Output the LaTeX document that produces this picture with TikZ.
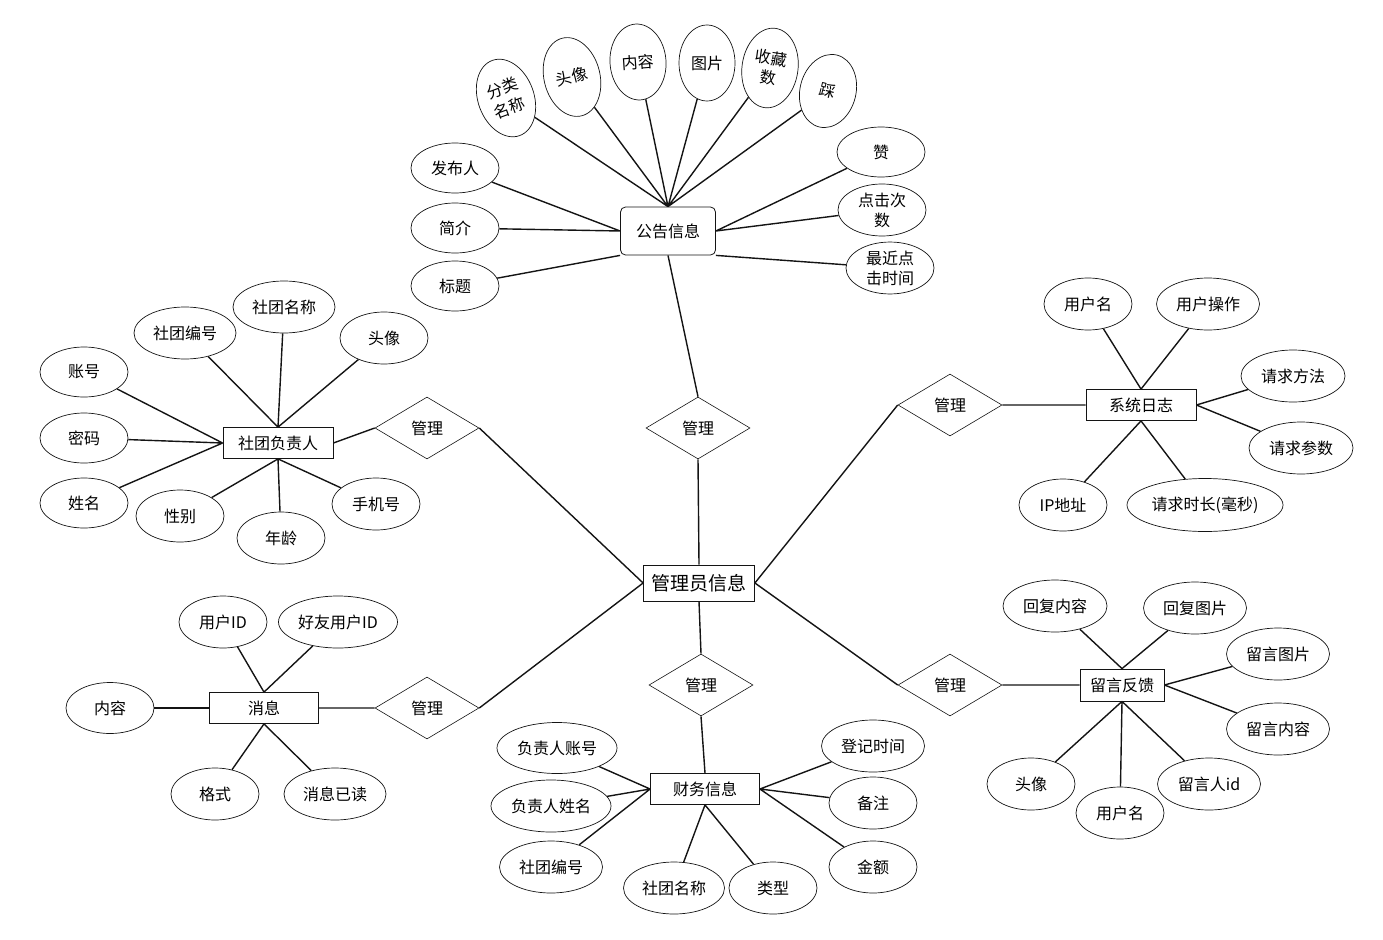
\documentclass[tikz,border=0pt]{standalone}
\usepackage{fontspec}
\newfontfamily\cjk{Noto Sans CJK SC}
\usetikzlibrary{shapes.geometric}
\definecolor{ink}{RGB}{20,20,20}
\tikzset{
  ent/.style={draw=ink,fill=white,line width=0.8pt,minimum width=110pt,minimum height=31pt,
    inner sep=2pt,font=\cjk\fontsize{16}{18}\selectfont},
  attr/.style={draw=ink,ellipse,line width=0.7pt,minimum width=88pt,minimum height=50pt,
    inner sep=1pt,align=center,font=\cjk\fontsize{16}{20}\selectfont},
  tall/.style={attr,minimum width=56pt,minimum height=76pt},
  rel/.style={draw=ink,diamond,line width=0.6pt,minimum width=104pt,minimum height=62pt,
    inner sep=0pt,font=\cjk\fontsize{16}{18}\selectfont},
  link/.style={line width=1.4pt,ink},
}

\begin{document}
\begin{tikzpicture}[x=1pt,y=-1pt]
  \useasboundingbox (0,0) rectangle (1383,939);
  \node[ent,minimum width=111pt,minimum height=36pt,font=\cjk\fontsize{19}{20}\selectfont] (gly) at (699,583) {管理员信息};
  \node[rel] (m1) at (698,428) {管理};
  \node[rel] (m2) at (427,428) {管理};
  \node[rel] (m3) at (950,405) {管理};
  \node[rel] (m4) at (701,685) {管理};
  \node[rel] (m5) at (427,708) {管理};
  \node[rel] (m6) at (950,685) {管理};

  \node[ent,rounded corners=5pt,minimum width=95pt,minimum height=48pt] (gg) at (668,231) {公告信息};
  \node[tall,rotate=20,minimum height=80pt,font=\cjk\fontsize{16}{21}\selectfont] (flmc) at (506,98) {分类\\名称};
  \node[tall,rotate=14,minimum height=80pt] (ggtx) at (572,77) {头像};
  \node[tall,rotate=4] (ggnr) at (638,62) {内容};
  \node[tall] (ggtp) at (707,63) {图片};
  \node[tall,rotate=-8,minimum height=80pt] (scs) at (770,68) {收藏\\数};
  \node[tall,rotate=-14,minimum height=74pt] (cai) at (828,91) {踩};
  \node[attr] (zan) at (881,152) {赞};
  \node[attr] (djcs) at (882,210) {点击次\\数};
  \node[attr] (zjdj) at (890,268) {最近点\\击时间};
  \node[attr] (fbr) at (455,168) {发布人};
  \node[attr] (jj) at (455,228) {简介};
  \node[attr] (bt) at (455,286) {标题};

  \node[ent] (fzr) at (278,443) {社团负责人};
  \node[attr] (zh) at (84,372) {账号};
  \node[attr] (mm) at (84,438) {密码};
  \node[attr] (xm) at (84,503) {姓名};
  \node[attr,minimum width=102pt,minimum height=52pt] (stbh) at (185,333) {社团编号};
  \node[attr,minimum width=102pt,minimum height=52pt] (stmc) at (284,307) {社团名称};
  \node[attr,minimum height=52pt] (fzrtx) at (384,338) {头像};
  \node[attr,minimum height=52pt] (xb) at (180,516) {性别};
  \node[attr,minimum height=52pt] (nl) at (281,538) {年龄};
  \node[attr,minimum height=52pt] (sjh) at (376,504) {手机号};

  \node[ent] (rz) at (1141,405) {系统日志};
  \node[attr,minimum height=52pt] (rzyhm) at (1088,304) {用户名};
  \node[attr,minimum width=103pt,minimum height=52pt] (yhcz) at (1208,304) {用户操作};
  \node[attr,minimum width=104pt,minimum height=52pt] (qqff) at (1293,376) {请求方法};
  \node[attr,minimum width=104pt,minimum height=52pt] (qqcs) at (1301,448) {请求参数};
  \node[attr,minimum height=52pt] (ip) at (1063,505) {IP地址};
  \node[attr,minimum width=156pt,minimum height=53pt] (qqsc) at (1205,505) {请求时长(毫秒)};

  \node[ent,minimum width=84pt,minimum height=32pt] (ly) at (1122,685) {留言反馈};
  \node[attr,minimum width=104pt,minimum height=52pt] (hfnr) at (1055,606) {回复内容};
  \node[attr,minimum width=103pt,minimum height=52pt] (hftp) at (1195,608) {回复图片};
  \node[attr,minimum width=103pt,minimum height=52pt] (lytp) at (1278,654) {留言图片};
  \node[attr,minimum width=103pt,minimum height=52pt] (lynr) at (1278,729) {留言内容};
  \node[attr,minimum height=52pt] (lytx) at (1031,784) {头像};
  \node[attr,minimum height=52pt] (lyyhm) at (1120,813) {用户名};
  \node[attr,minimum width=103pt,minimum height=52pt] (lyrid) at (1209,784) {留言人id};

  \node[ent,minimum width=109pt] (xx) at (264,708) {消息};
  \node[attr,minimum height=52pt] (yhid) at (223,622) {用户ID};
  \node[attr,minimum width=119pt,minimum height=52pt] (hyid) at (338,622) {好友用户ID};
  \node[attr,minimum height=51pt] (xxnr) at (110,708) {内容};
  \node[attr,minimum height=52pt] (gs) at (215,794) {格式};
  \node[attr,minimum width=102pt,minimum height=52pt] (yd) at (335,794) {消息已读};

  \node[ent,minimum width=109pt] (cw) at (705,789) {财务信息};
  \node[attr,minimum width=120pt,minimum height=51pt] (fzrzh) at (557,748) {负责人账号};
  \node[attr,minimum width=120pt,minimum height=52pt] (fzrxm) at (551,806) {负责人姓名};
  \node[attr,minimum width=103pt,minimum height=52pt] (cwbh) at (551,867) {社团编号};
  \node[attr,minimum width=101pt,minimum height=52pt] (cwmc) at (674,888) {社团名称};
  \node[attr,minimum height=52pt] (lx) at (773,888) {类型};
  \node[attr,minimum width=103pt,minimum height=52pt] (djsj) at (873,746) {登记时间};
  \node[attr,minimum height=52pt] (bz) at (873,803) {备注};
  \node[attr,minimum height=52pt] (je) at (873,867) {金额};

  \draw[link] (gly.north) -- (m1.south) (m1.north) -- (gg.south);
  \draw[link] (gly.west) -- (m2.east) (m2.west) -- (fzr.east);
  \draw[link] (gly.east) -- (m3.west) (m3.east) -- (rz.west);
  \draw[link] (gly.south) -- (m4.north) (m4.south) -- (cw.north);
  \draw[link] (gly.west) -- (m5.east) (m5.west) -- (xx.east);
  \draw[link] (gly.east) -- (m6.west) (m6.east) -- (ly.west);

  \draw[link] (flmc) -- (gg.north) (ggtx) -- (gg.north) (ggnr) -- (gg.north)
    (ggtp) -- (gg.north) (scs) -- (gg.north) (cai) -- (gg.north);
  \draw[link] (zan) -- (gg.east) (djcs) -- (gg.east) (zjdj) -- (gg.south east);
  \draw[link] (fbr) -- (gg.west) (jj) -- (gg.west) (bt) -- (gg.south west);

  \draw[link] (zh) -- (fzr.west) (mm) -- (fzr.west) (xm) -- (fzr.west);
  \draw[link] (stbh) -- (fzr.north) (stmc) -- (fzr.north) (fzrtx) -- (fzr.north);
  \draw[link] (xb) -- (fzr.south) (nl) -- (fzr.south) (sjh) -- (fzr.south);

  \draw[link] (rzyhm) -- (rz.north) (yhcz) -- (rz.north);
  \draw[link] (qqff) -- (rz.east) (qqcs) -- (rz.east);
  \draw[link] (ip) -- (rz.south) (qqsc) -- (rz.south);

  \draw[link] (hfnr) -- (ly.north) (hftp) -- (ly.north);
  \draw[link] (lytp) -- (ly.east) (lynr) -- (ly.east);
  \draw[link] (lytx) -- (ly.south) (lyyhm) -- (ly.south) (lyrid) -- (ly.south);

  \draw[link] (yhid) -- (xx.north) (hyid) -- (xx.north);
  \draw[link] (xxnr) -- (xx.west);
  \draw[link] (gs) -- (xx.south) (yd) -- (xx.south);

  \draw[link] (fzrzh) -- (cw.west) (fzrxm) -- (cw.west) (cwbh) -- (cw.west);
  \draw[link] (cwmc) -- (cw.south) (lx) -- (cw.south);
  \draw[link] (djsj) -- (cw.east) (bz) -- (cw.east) (je) -- (cw.east);
\end{tikzpicture}
\end{document}
